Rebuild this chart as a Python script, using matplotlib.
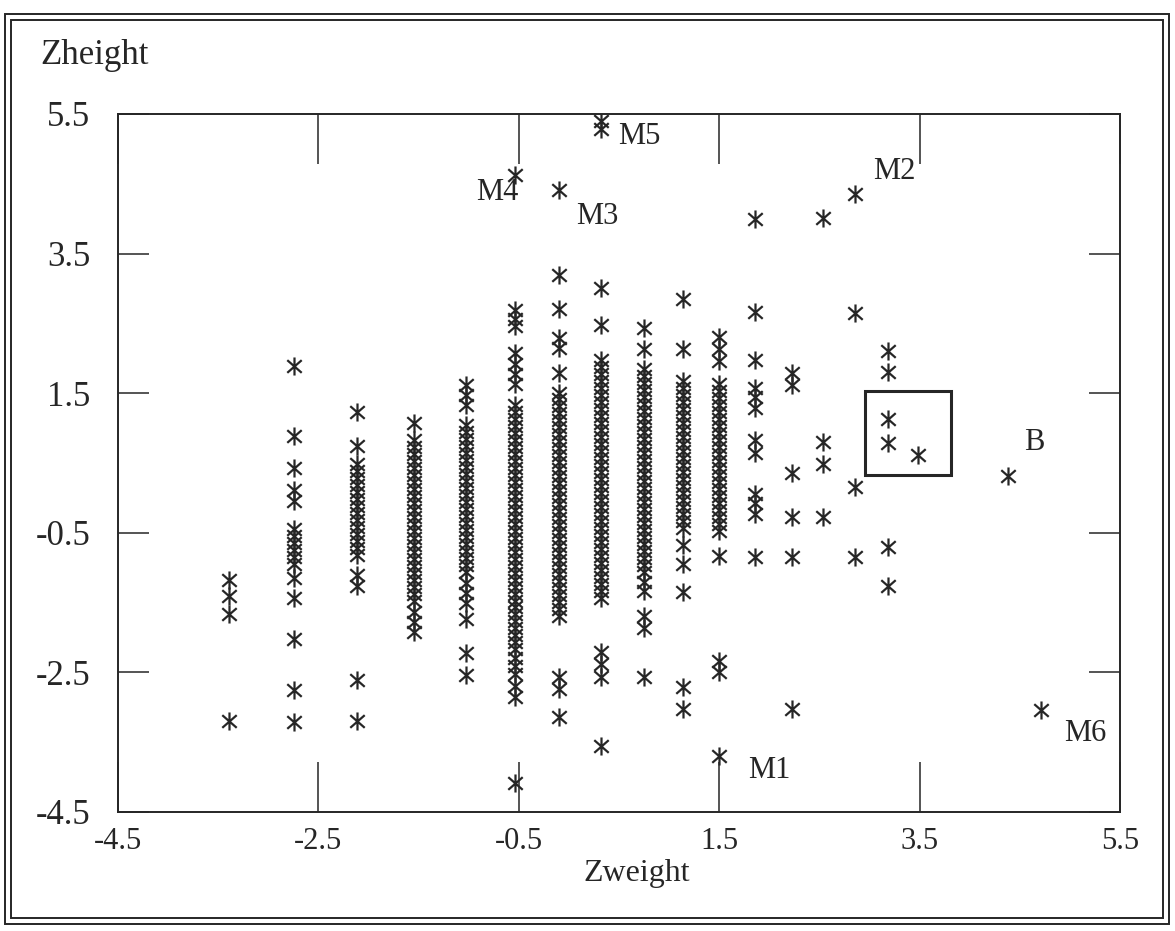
import matplotlib
matplotlib.use("Agg")
import matplotlib.pyplot as plt
from matplotlib.path import Path
from matplotlib.patches import Rectangle

plt.rcParams['font.family'] = ['Liberation Serif', 'DejaVu Serif']

# standardised weight levels (one column of points each)
zweight = [-3.39, -2.74, -2.11, -1.55, -1.03, -0.54, -0.10, 0.32, 0.75, 1.14,
           1.50, 1.86, 2.23, 2.54, 2.86, 3.18, 3.48, 4.38, 4.71]

# standardised heights observed at each weight level
h01 = [-1.17, -1.41, -1.67, -3.19]
h02 = [1.89, 0.89, 0.43, 0.12, -0.05, -0.44, -0.54, -0.64, -0.74, -0.84, -0.94,
       -1.15, -1.43, -2.02, -2.75, -3.21]
h03 = [1.23, 0.74, 0.48, 0.38, 0.28, 0.18, 0.08, -0.02, -0.12, -0.22, -0.32,
       -0.42, -0.52, -0.62, -0.72, -0.82, -1.11, -1.26, -2.61, -3.19]
h04 = [1.08, 0.83, 0.73, 0.63, 0.53, 0.43, 0.33, 0.23, 0.13, 0.03, -0.07, -0.17,
       -0.27, -0.37, -0.47, -0.57, -0.67, -0.77, -0.87, -0.97, -1.07, -1.17,
       -1.27, -1.37, -1.47, -1.63, -1.78, -1.92]
h05 = [1.62, 1.48, 1.33, 1.04, 0.94, 0.84, 0.74, 0.64, 0.54, 0.44, 0.34, 0.24,
       0.14, 0.04, -0.06, -0.16, -0.26, -0.36, -0.46, -0.56, -0.66, -0.76, -0.86,
       -0.96, -1.06, -1.22, -1.36, -1.51, -1.74, -2.22, -2.54]
h06 = [4.62, 2.69, 2.57, 2.46, 2.07, 1.92, 1.78, 1.63, 1.33, 1.23, 1.13, 1.03,
       0.93, 0.83, 0.73, 0.63, 0.53, 0.43, 0.33, 0.23, 0.13, 0.03, -0.07, -0.17,
       -0.27, -0.37, -0.47, -0.57, -0.67, -0.77, -0.87, -0.97, -1.07, -1.17,
       -1.27, -1.37, -1.47, -1.57, -1.67, -1.77, -1.87, -1.97, -2.07, -2.17,
       -2.30, -2.41, -2.53, -2.69, -2.85, -4.08]
h07 = [4.41, 3.20, 2.70, 2.29, 2.15, 1.79, 1.51, 1.41, 1.31, 1.21, 1.11, 1.01,
       0.91, 0.81, 0.71, 0.61, 0.51, 0.41, 0.31, 0.21, 0.11, 0.01, -0.09, -0.19,
       -0.29, -0.39, -0.49, -0.59, -0.69, -0.79, -0.89, -0.99, -1.09, -1.19,
       -1.29, -1.39, -1.49, -1.59, -1.69, -2.56, -2.74, -3.14]
h08 = [5.40, 5.29, 3.01, 2.47, 1.97, 1.87, 1.77, 1.67, 1.57, 1.47, 1.37, 1.27,
       1.17, 1.07, 0.97, 0.87, 0.77, 0.67, 0.57, 0.47, 0.37, 0.27, 0.17, 0.07,
       -0.03, -0.13, -0.23, -0.33, -0.43, -0.53, -0.63, -0.73, -0.83, -0.93,
       -1.03, -1.13, -1.23, -1.33, -1.43, -2.21, -2.38, -2.56, -3.55]
h09 = [2.44, 2.14, 1.84, 1.74, 1.64, 1.54, 1.44, 1.34, 1.24, 1.14, 1.04, 0.94,
       0.84, 0.74, 0.64, 0.54, 0.44, 0.34, 0.24, 0.14, 0.04, -0.06, -0.16, -0.26,
       -0.36, -0.46, -0.56, -0.66, -0.76, -0.86, -0.96, -1.06, -1.20, -1.34,
       -1.69, -1.87, -2.56]
h10 = [2.85, 2.13, 1.67, 1.57, 1.47, 1.37, 1.27, 1.17, 1.07, 0.97, 0.87, 0.77,
       0.67, 0.57, 0.47, 0.37, 0.27, 0.17, 0.07, -0.03, -0.13, -0.23, -0.33,
       -0.43, -0.68, -0.94, -1.35, -2.71, -3.02]
h11 = [2.31, 2.14, 1.96, 1.63, 1.53, 1.43, 1.33, 1.23, 1.13, 1.03, 0.93, 0.83,
       0.73, 0.63, 0.53, 0.43, 0.33, 0.23, 0.13, 0.03, -0.07, -0.17, -0.27,
       -0.37, -0.47, -0.83, -2.33, -2.50, -3.70]
h12 = [4.00, 2.67, 1.97, 1.58, 1.44, 1.29, 0.83, 0.64, 0.06, -0.08, -0.23, -0.84]
h13 = [1.79, 1.62, 0.35, -0.28, -0.84, -3.03]
h14 = [4.01, 0.80, 0.49, -0.28]
h15 = [4.36, 2.65, 0.16, -0.85]
h16 = [2.11, 1.81, 1.13, 0.79, -0.71, -1.26]
h17 = [0.62]
h18 = [0.31]
h19 = [-3.04]
zheight = [h01, h02, h03, h04, h05, h06, h07, h08, h09, h10,
           h11, h12, h13, h14, h15, h16, h17, h18, h19]

# labelled cases
label_names = ['M1', 'M2', 'M3', 'M4', 'M5', 'M6', 'B']
label_x = [1.79, 3.04, 0.07, -0.93, 0.49, 4.94, 4.54]
label_y = [-3.91, 4.68, 4.03, 4.38, 5.18, -3.38, 0.80]

# box drawn round the B group
box_x = [2.96, 3.81]
box_y = [0.33, 1.53]

ticks = [-4.5, -2.5, -0.5, 1.5, 3.5, 5.5]

ink = '#262626'

# six-armed asterisk: a vertical stroke and two diagonals
star = Path([(0, -1), (0, 1), (-0.8, -0.7), (0.8, 0.7), (-0.8, 0.7), (0.8, -0.7)],
            [Path.MOVETO, Path.LINETO, Path.MOVETO, Path.LINETO, Path.MOVETO, Path.LINETO])

fig = plt.figure(figsize=(11.75, 9.31), dpi=100)
W, H = 1175, 931
ax = fig.add_axes([118 / W, 119 / H, 1002 / W, 698 / H])

xs, ys = [], []
for w, col in zip(zweight, zheight):
    xs += [w] * len(col)
    ys += col
ax.plot(xs, ys, linestyle='none', marker=star, markersize=13,
        markerfacecolor='none', markeredgecolor=ink, markeredgewidth=1.6)

for name, x, y in zip(label_names, label_x, label_y):
    ax.text(x, y, name, fontsize=22, color=ink, ha='left', va='center')

ax.add_patch(Rectangle((box_x[0], box_y[0]), box_x[1] - box_x[0], box_y[1] - box_y[0],
                       fill=False, edgecolor=ink, linewidth=2.2))

ax.set_xlim(-4.5, 5.5)
ax.set_ylim(-4.5, 5.5)
ax.set_xticks(ticks)
ax.set_yticks(ticks)
ax.set_xticklabels([f'{t:g}' for t in ticks])
ax.set_yticklabels([f'{t:g}' for t in ticks])
ax.tick_params(axis='x', direction='in', length=36, width=1.1, color=ink,
               top=True, bottom=True, labelsize=22, labelcolor=ink, pad=11)
ax.tick_params(axis='y', direction='in', length=22, width=1.1, color=ink,
               left=True, right=True, labelsize=25, labelcolor=ink, pad=20)
for s in ax.spines.values():
    s.set_color(ink)
    s.set_linewidth(1.4)

fig.text(40 / W, 1 - 56 / H, 'Zheight', fontsize=25, color=ink, ha='left', va='center')
fig.text(637 / W, 1 - 873 / H, 'Zweight', fontsize=23, color=ink, ha='center', va='center')


# double rule round the whole figure
def frame(left, top, right, bottom):
    fig.add_artist(Rectangle((left / W, 1 - bottom / H), (right - left) / W, (bottom - top) / H,
                             transform=fig.transFigure, fill=False, edgecolor=ink, linewidth=1.4))


frame(5, 14, 1169, 924)
frame(11, 20, 1163, 918)

fig.savefig('out.png', dpi=100)
